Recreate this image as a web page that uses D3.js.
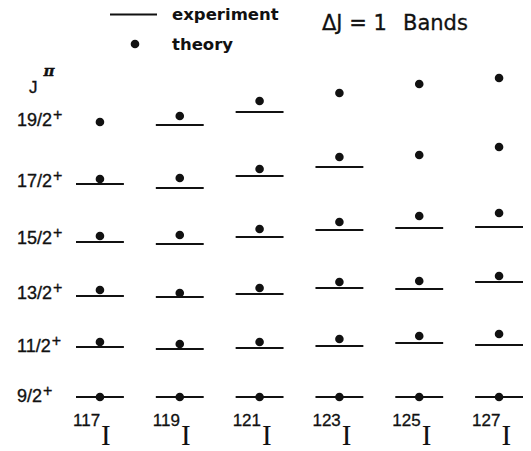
<!DOCTYPE html>
<html><head><meta charset="utf-8">
<script src="https://cdn.jsdelivr.net/npm/d3@7"></script>
<style>body{margin:0;background:#fff}</style>
</head><body>
<script>
// ---- data (relative level energies, arbitrary units; 9/2+ = 0) ----
const nuclei = ["117", "119", "121", "123", "125", "127"];
const spins = ["9/2", "11/2", "13/2", "15/2", "17/2", "19/2"];
// experiment (null = not observed)
const exp117 = [0, 0.50, 1.01, 1.55, 2.13, null];
const exp119 = [0, 0.48, 1.00, 1.53, 2.09, 2.72];
const exp121 = [0, 0.49, 1.03, 1.60, 2.21, 2.85];
const exp123 = [0, 0.51, 1.09, 1.67, 2.30, null];
const exp125 = [0, 0.54, 1.08, 1.69, null, null];
const exp127 = [0, 0.52, 1.15, 1.70, null, null];
// theory
const th117 = [0, 0.55, 1.07, 1.61, 2.18, 2.75];
const th119 = [0, 0.53, 1.04, 1.62, 2.19, 2.81];
const th121 = [0, 0.55, 1.09, 1.68, 2.28, 2.96];
const th123 = [0, 0.58, 1.15, 1.75, 2.40, 3.04];
const th125 = [0, 0.61, 1.16, 1.81, 2.42, 3.13];
const th127 = [0, 0.63, 1.21, 1.84, 2.50, 3.19];
// positions of the J^pi row labels (same energy units)
const labelLevels = [0, 0.50, 1.03, 1.58, 2.15, 2.76];

const expAll = [exp117, exp119, exp121, exp123, exp125, exp127];
const thAll = [th117, th119, th121, th123, th125, th127];

const W = 531, H = 451;
const svg = d3.select("body").append("svg").attr("width", W).attr("height", H);

const x = d3.scaleBand().domain(nuclei).range([76, 523]).paddingInner(0.4).paddingOuter(0);
const y = d3.scaleLinear().domain([0, 3.2]).range([397, 77]);

const expData = [], thData = [];
nuclei.forEach((n, i) => {
  spins.forEach((s, j) => {
    if (expAll[i][j] != null) expData.push({n, s, e: expAll[i][j]});
    if (thAll[i][j] != null) thData.push({n, s, e: thAll[i][j]});
  });
});

const sans = "'Liberation Sans', Arial, sans-serif";
const dv = "'DejaVu Sans', sans-serif";
const ink = "#111";

// experiment levels
svg.append("g").selectAll("line").data(expData).join("line")
  .attr("x1", d => x(d.n)).attr("x2", d => x(d.n) + x.bandwidth())
  .attr("y1", d => y(d.e)).attr("y2", d => y(d.e))
  .attr("stroke", ink).attr("stroke-width", 2);

// theory points
svg.append("g").selectAll("circle").data(thData).join("circle")
  .attr("cx", d => x(d.n) + x.bandwidth() / 2).attr("cy", d => y(d.e))
  .attr("r", 4.3).attr("fill", ink);

// row labels
const rl = svg.append("g").selectAll("text").data(spins).join("text")
  .attr("x", 17).attr("y", (d, i) => y(labelLevels[i]) + 5)
  .attr("font-family", sans).attr("font-size", 18).attr("fill", ink)
  .attr("stroke", ink).attr("stroke-width", 0.35);
rl.append("tspan").text(d => d);
rl.append("tspan").text("+").attr("font-size", 16).attr("dy", -6).attr("dx", 1);

// J^pi
const jp = svg.append("text").attr("x", 29).attr("y", 93)
  .attr("font-family", sans).attr("font-size", 17).attr("fill", ink)
  .attr("stroke", ink).attr("stroke-width", 0.35);
jp.append("tspan").text("J");
jp.append("tspan").text("π").attr("font-size", 15).attr("dy", -17).attr("dx", 6)
  .attr("font-family", "'DejaVu Serif', serif").attr("font-weight", "bold").attr("font-style", "italic");

// nucleus labels
const nl = svg.append("g").selectAll("text").data(nuclei).join("text")
  .attr("x", d => x(d) - 3).attr("y", 426).attr("fill", ink);
nl.append("tspan").text(d => d).attr("font-family", sans).attr("font-size", 17)
  .attr("stroke", ink).attr("stroke-width", 0.3);
nl.append("tspan").text("I").attr("font-family", "'Liberation Serif', 'Times New Roman', serif")
  .attr("font-size", 29).attr("dy", 19).attr("dx", 1);

// legend
svg.append("line").attr("x1", 110).attr("x2", 157).attr("y1", 14.5).attr("y2", 14.5)
  .attr("stroke", ink).attr("stroke-width", 2);
svg.append("circle").attr("cx", 135).attr("cy", 44).attr("r", 4.3).attr("fill", ink);
svg.append("text").attr("x", 172).attr("y", 20).text("experiment")
  .attr("font-family", dv).attr("font-weight", "bold").attr("font-size", 16.5).attr("fill", ink);
svg.append("text").attr("x", 172).attr("y", 50).text("theory")
  .attr("font-family", dv).attr("font-weight", "bold").attr("font-size", 16.5).attr("fill", ink);

// title
svg.append("text").attr("x", 322).attr("y", 30).text("ΔJ = 1")
  .attr("font-family", dv).attr("font-size", 21).attr("fill", ink)
  .attr("stroke", ink).attr("stroke-width", 0.3);
svg.append("text").attr("x", 403).attr("y", 30).text("Bands")
  .attr("font-family", dv).attr("font-size", 21).attr("fill", ink)
  .attr("stroke", ink).attr("stroke-width", 0.3);
</script>
</body></html>
